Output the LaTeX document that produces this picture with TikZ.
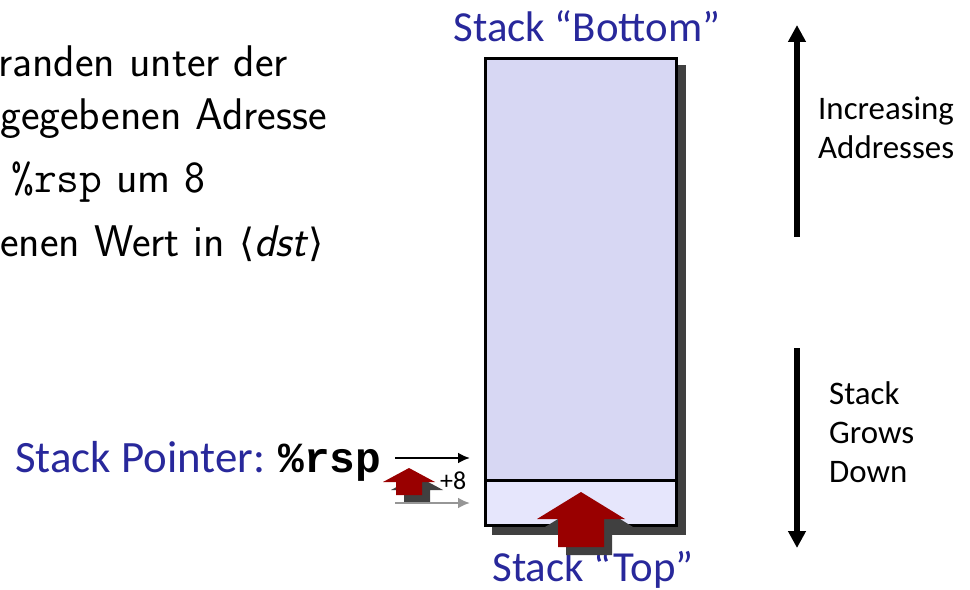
\documentclass[tikz,border=0pt]{standalone}
\usepackage{fontspec}
\newfontfamily\labelfont{Carlito}
\newfontfamily\regfont{Liberation Mono}
\newfontfamily\symfont{DejaVu Sans}
\usetikzlibrary{positioning,arrows.meta}

\definecolor{stackblue}{RGB}{40,40,155}
\definecolor{stackfill}{RGB}{215,215,243}
\definecolor{topfill}{RGB}{230,230,252}
\definecolor{pushred}{RGB}{153,0,0}
\definecolor{shadowgray}{RGB}{64,64,64}
\definecolor{oldgray}{RGB}{150,150,150}

\begin{document}
\begin{tikzpicture}[
  x=1bp, y=-1bp,
  txt/.style={font=\sffamily\fontsize{44.5}{52}\selectfont, anchor=base west, inner sep=0pt},
  lbl/.style={font=\labelfont\fontsize{43}{50}\selectfont, text=stackblue, inner sep=0pt},
  side/.style={font=\labelfont\fontsize{33}{39}\selectfont, align=left, anchor=west, inner sep=0pt},
  cell/.style={draw, line width=3.6bp, minimum width=190.8bp, inner sep=0pt},
  arr/.style={-{Latex[length=12bp, width=11bp]}, line width=2.4bp},
  bigarr/.style={-{Triangle[length=17bp, width=17bp]}, line width=5.2bp}
]
\useasboundingbox (0,0) rectangle (970,590);

% instruction text, cut at the left edge
\node[txt] (load) at (-2,77) {randen unter der};
\node[txt] (addr) at (0,130) {gegebenen Adresse};
\node[txt] (incr) at (11,193) {{\ttfamily\%rsp} um 8};
\node[txt] (dst) at (0,257) {enen Wert in {\symfont\fontsize{39}{44}\selectfont ⟨}\textit{dst}{\symfont\fontsize{39}{44}\selectfont ⟩}};

% stack
\fill[shadowgray] (492,65) rectangle (686,535);
\node[cell, fill=stackfill, minimum height=466.8bp] (stack) at (581,292) {};
\node[cell, fill=topfill, minimum height=44.9bp] (top) at (581,503) {};
\node[lbl, anchor=base] (bottomlbl) at (587,42) {Stack \textquotedblleft Bottom\textquotedblright};
\node[lbl, anchor=base] (toplbl) at (593,581) {Stack \textquotedblleft Top\textquotedblright};

% pop arrows
\fill[shadowgray] (589,500) -- (633,527) -- (612,527) -- (612,555) -- (566,555) -- (566,527) -- (545,527) -- cycle;
\fill[pushred] (581,492) -- (625,519) -- (604,519) -- (604,547) -- (558,547) -- (558,519) -- (537,519) -- cycle;
\fill[shadowgray] (417,476) -- (443,490) -- (430,490) -- (430,503) -- (404,503) -- (404,490) -- (391,490) -- cycle;
\fill[pushred] (409,468) -- (435,482) -- (422,482) -- (422,495) -- (396,495) -- (396,482) -- (383,482) -- cycle;

% stack pointer
\node[lbl, anchor=base west, font=\labelfont\fontsize{45}{52}\selectfont] (sp) at (15,472) {Stack Pointer: {\regfont\bfseries\fontsize{43}{49}\selectfont\color{black}\%rsp}};
\coordinate (spnew) at (395,458);
\coordinate (spnewend) at (470,458);
\coordinate (spold) at (395,503);
\coordinate (spoldend) at (470,503);
\draw[arr] (spnew) -- (spnewend);
\draw[arr, oldgray] (spold) -- (spoldend);
\node[font=\labelfont\fontsize{26}{30}\selectfont, anchor=base west, inner sep=0pt] (plus) at (440,489) {+8};

% directions
\coordinate (upstart) at (797,237);
\coordinate (upend) at (797,25);
\coordinate (downstart) at (797,348);
\coordinate (downend) at (797,548);
\draw[bigarr] (upstart) -- (upend);
\draw[bigarr] (downstart) -- (downend);
\node[side] (incaddr) at (818,128) {Increasing\\Addresses};
\node[side] (grows) at (829,432) {Stack\\Grows\\Down};
\end{tikzpicture}
\end{document}
